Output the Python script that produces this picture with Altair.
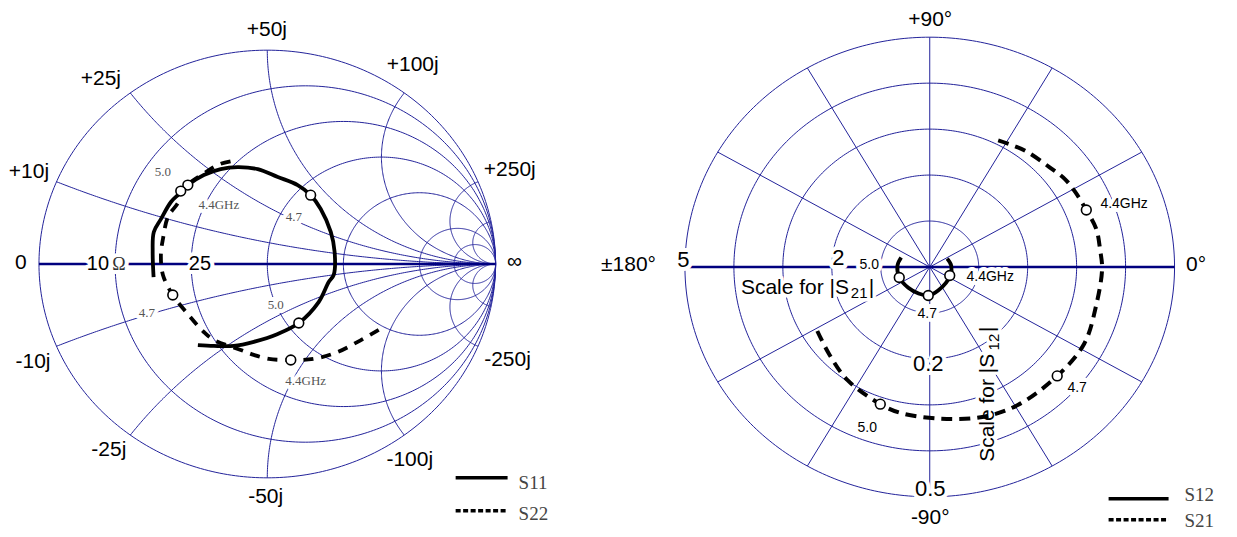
import numpy as np
import pandas as pd
import altair as alt

# ======================= LEFT: Smith chart (Z0 = 50 ohm) =======================
smith_r = [0.2, 0.5, 1.0, 2.0, 5.0, 10.0]   # constant-resistance circles
smith_x = [0.2, 0.5, 1.0, 2.0, 5.0, 10.0]   # constant-reactance arcs (+ and -)

# reflection coefficients (ascending frequency)
s11_re = [-0.498, -0.502, -0.497, -0.466, -0.422, -0.387, -0.348, -0.278, -0.204, -0.129,
          -0.042, 0.046, 0.133, 0.190, 0.234, 0.278, 0.295, 0.291, 0.269, 0.225,
          0.138, 0.046, -0.059, -0.147, -0.234, -0.304]
s11_im = [-0.061, 0.056, 0.150, 0.210, 0.290, 0.327, 0.369, 0.416, 0.444, 0.453,
          0.444, 0.407, 0.369, 0.322, 0.257, 0.150, 0.056, -0.051, -0.084, -0.178,
          -0.276, -0.327, -0.364, -0.383, -0.383, -0.379]
s22_re = [0.488, 0.396, 0.309, 0.203, 0.103, 0.007, -0.059, -0.116, -0.234, -0.278,
          -0.348, -0.414, -0.457, -0.466, -0.457, -0.435, -0.387, -0.379, -0.269, -0.208, -0.133]
s22_im = [-0.308, -0.364, -0.411, -0.444, -0.449, -0.444, -0.425, -0.402, -0.355, -0.318,
          -0.234, -0.145, -0.051, 0.042, 0.117, 0.220, 0.294, 0.341, 0.430, 0.467, 0.486]
# marker points at 4.4, 4.7, 5.0 GHz
s11_mark_re = [-0.348, 0.190, 0.138]
s11_mark_im = [0.369, 0.322, -0.276]
s22_mark_re = [0.103, -0.414, -0.379]
s22_mark_im = [-0.449, -0.145, 0.341]

smith_outer_text = ["+50j", "+25j", "+100j", "+10j", "+250j", "0", "∞",
                    "-10j", "-25j", "-50j", "-100j", "-250j"]
smith_outer_x = [-0.002, -0.729, 0.637, -1.044, 1.062, -1.079, 1.083,
                 -1.026, -0.694, -0.007, 0.624, 1.052]
smith_outer_y = [1.093, 0.864, 0.930, 0.430, 0.439, 0.005, 0.009,
                 -0.458, -0.869, -1.089, -0.916, -0.448]
smith_axis_text = ["10", "25"]
smith_axis_x = [-0.742, -0.295]
smith_axis_y = [0.0, 0.0]
smith_ohm_text = ["Ω"]
smith_ohm_x = [-0.650]
smith_ohm_y = [-0.005]
smith_freq_text = ["5.0", "4.4GHz", "4.7", "5.0", "4.7", "4.4GHz"]
smith_freq_x = [-0.457, -0.212, 0.116, 0.037, -0.527, 0.168]
smith_freq_y = [0.430, 0.276, 0.220, -0.192, -0.229, -0.547]

left_series = ["S11", "S22"]
left_leg_x = [0.825, 0.825]
left_leg_x2 = [1.0525, 1.0525]
left_leg_y = [-1.000, -1.154]
left_leg_tx = [1.1007, 1.1007]
left_leg_ty = [-1.023, -1.168]

# ======================= RIGHT: polar plot of S21 / S12 =======================
polar_rings = [1, 2, 3, 4, 5]
polar_spokes = [30, 60, 90, 120, 150, 210, 240, 270, 300, 330]
s12_ring_factor = 10  # |S12| uses 0.1 per ring, |S21| uses 1 per ring

s21_mag = [3.09, 3.19, 3.27, 3.36, 3.39, 3.43, 3.50, 3.50, 3.52, 3.50,
           3.57, 3.52, 3.50, 3.44, 3.31, 3.23, 3.15, 2.98, 2.80, 2.68]
s21_ang = [63.1, 52.8, 41.7, 34.6, 28.8, 21.2, 13.7, 6.1, -0.7, -13.7,
           -27.9, -42.3, -58.9, -71.2, -86.0, -100.7, -108.7, -124.3, -137.0, -149.8]
s12_mag = [0.040, 0.044, 0.046, 0.054, 0.062, 0.062, 0.063, 0.066, 0.066, 0.062]
s12_ang = [27.0, 4.0, -23.6, -71.5, -92.8, -111.6, -134.0, -159.7, 177.0, 160.4]
s21_mark_mag = [3.43, 3.52, 3.15]
s21_mark_ang = [21.2, -42.3, -108.7]
s12_mark_mag = [0.0448, 0.062, 0.0663]
s12_mark_ang = [-24.3, -92.8, -159.9]

polar_outer_text = ["+90°", "-90°", "±180°", "0°"]
polar_outer_x = [0.01, 0.01, -6.153, 5.439]
polar_outer_y = [5.37, -5.457, 0.043, 0.043]
polar_scale_text = ["5", "2", "0.2", "0.5"]
polar_scale_x = [-5.03, -1.867, -0.031, 0.01]
polar_scale_y = [0.152, 0.196, -2.109, -4.826]
polar_freq_text = ["5.0", "4.4GHz", "4.7", "4.4GHz", "4.7", "5.0"]
polar_freq_x = [-1.235, 1.235, -0.051, 3.969, 3.01, -1.276]
polar_freq_y = [0.043, -0.217, -1.022, 1.37, -2.63, -3.5]

right_series = ["S12", "S21"]
right_leg_x = [3.653, 3.653]
right_leg_x2 = [4.878, 4.878]
right_leg_y = [-5.043, -5.500]
right_leg_tx = [5.204, 5.204]
right_leg_ty = [-4.957, -5.522]

# ======================= layout =======================
H = 521
LW, RW = 560, 661
GRID = "#22229a"
AXIS = "#00007f"
SANS = "Liberation Sans"
SERIF = "Liberation Serif"

# left panel scales: 228.5 px per unit horizontally, 214 px per unit vertically
lx0, ly0, lpx, lpy = 258.5, 254.0, 228.5, 214.0
LX = alt.Scale(domain=[-lx0 / lpx, (LW - lx0) / lpx], nice=False, zero=False)
LY = alt.Scale(domain=[-(H - ly0) / lpy, ly0 / lpy], nice=False, zero=False)
# right panel scales: 49 px per ring horizontally, 46 px per ring vertically
rx0, ry0, rpx, rpy = 361.5, 257.0, 49.0, 46.0
RX = alt.Scale(domain=[-rx0 / rpx, (RW - rx0) / rpx], nice=False, zero=False)
RY = alt.Scale(domain=[-(H - ry0) / rpy, ry0 / rpy], nice=False, zero=False)


def enc(sx, sy, x="x", y="y"):
    return dict(x=alt.X(f"{x}:Q", scale=sx, axis=None), y=alt.Y(f"{y}:Q", scale=sy, axis=None))


# ---------- Smith grid geometry ----------
grid_parts = []
cid = 0
th = np.linspace(0, 2 * np.pi, 361)
grid_parts.append(pd.DataFrame({"x": np.cos(th), "y": np.sin(th), "cid": cid, "i": np.arange(th.size)}))
for r in smith_r:
    cid += 1
    c, R = r / (1 + r), 1 / (1 + r)
    grid_parts.append(pd.DataFrame({"x": c + R * np.cos(th), "y": R * np.sin(th), "cid": cid,
                                    "i": np.arange(th.size)}))
for xv in smith_x:
    gx = (xv ** 2 - 1) / (xv ** 2 + 1)
    gy = 2 * xv / (xv ** 2 + 1)
    a0 = np.arctan2(gy - 1 / xv, gx - 1) % (2 * np.pi)
    a = np.linspace(a0, 1.5 * np.pi, 200)
    px = 1 + (1 / xv) * np.cos(a)
    py = 1 / xv + (1 / xv) * np.sin(a)
    for sgn in (1, -1):
        cid += 1
        grid_parts.append(pd.DataFrame({"x": px, "y": sgn * py, "cid": cid, "i": np.arange(a.size)}))
smith_grid = pd.concat(grid_parts, ignore_index=True)
smith_axis = pd.DataFrame({"x": [-1.0, 1.0], "y": [0.0, 0.0]})


def curve_df(xs, ys):
    return pd.DataFrame({"x": xs, "y": ys, "i": np.arange(len(xs))})


def text_df(t, xs, ys):
    return pd.DataFrame({"t": t, "x": xs, "y": ys})


def halo(df, sx, sy, size, font, align="center", baseline="middle", angle=0, width=6):
    return alt.Chart(df).mark_text(fontSize=size, font=font, align=align, baseline=baseline,
                                   angle=angle, stroke="white", strokeWidth=width,
                                   strokeJoin="round", fill="white").encode(text="t:N", **enc(sx, sy))


def label(df, sx, sy, size, font, color="black", align="center", baseline="middle", angle=0):
    return alt.Chart(df).mark_text(fontSize=size, font=font, align=align, baseline=baseline,
                                   angle=angle, color=color).encode(text="t:N", **enc(sx, sy))


def markers(xs, ys, sx, sy):
    return alt.Chart(curve_df(xs, ys)).mark_point(shape="circle", filled=True, fill="white",
                                                  stroke="black", strokeWidth=1.6, size=95,
                                                  opacity=1).encode(**enc(sx, sy))


# ---------- left layers ----------
l_grid = alt.Chart(smith_grid).mark_line(color=GRID, strokeWidth=1).encode(
    detail="cid:N", order="i:Q", **enc(LX, LY))
l_axis = alt.Chart(smith_axis).mark_line(color=AXIS, strokeWidth=2.5).encode(**enc(LX, LY))

axis_lbl = text_df(smith_axis_text, smith_axis_x, smith_axis_y)
ohm_lbl = text_df(smith_ohm_text, smith_ohm_x, smith_ohm_y)
sfreq_lbl = text_df(smith_freq_text, smith_freq_x, smith_freq_y)
outer_lbl = text_df(smith_outer_text, smith_outer_x, smith_outer_y)

l_s11 = alt.Chart(curve_df(s11_re, s11_im)).mark_line(
    color="black", strokeWidth=3.8, interpolate="catmull-rom").encode(order="i:Q", **enc(LX, LY))
l_s22 = alt.Chart(curve_df(s22_re, s22_im)).mark_line(
    color="black", strokeWidth=3.8, strokeDash=[10, 8], interpolate="catmull-rom").encode(
    order="i:Q", **enc(LX, LY))

lleg = pd.DataFrame({"t": left_series, "x": left_leg_x, "x2": left_leg_x2, "y": left_leg_y,
                     "tx": left_leg_tx, "ty": left_leg_ty})
l_leg_solid = alt.Chart(lleg.iloc[[0]]).mark_rule(color="black", strokeWidth=3.5).encode(
    x=alt.X("x:Q", scale=LX, axis=None), x2="x2:Q", y=alt.Y("y:Q", scale=LY, axis=None))
l_leg_dot = alt.Chart(lleg.iloc[[1]]).mark_rule(color="black", strokeWidth=3.5,
                                                strokeDash=[5, 2.5]).encode(
    x=alt.X("x:Q", scale=LX, axis=None), x2="x2:Q", y=alt.Y("y:Q", scale=LY, axis=None))
l_leg_txt = alt.Chart(lleg).mark_text(font=SERIF, fontSize=19, color="#444", align="left",
                                      baseline="middle").encode(text="t:N", **enc(LX, LY, "tx", "ty"))

left = alt.layer(
    l_grid, l_axis,
    halo(axis_lbl, LX, LY, 20, SANS, width=8), halo(ohm_lbl, LX, LY, 18, SERIF, width=8),
    halo(sfreq_lbl, LX, LY, 13, SERIF, width=8),
    l_s11, l_s22,
    markers(s11_mark_re, s11_mark_im, LX, LY), markers(s22_mark_re, s22_mark_im, LX, LY),
    label(axis_lbl, LX, LY, 20, SANS), label(ohm_lbl, LX, LY, 18, SERIF, color="#333"),
    label(sfreq_lbl, LX, LY, 13, SERIF, color="#555"),
    label(outer_lbl, LX, LY, 21, SANS),
    l_leg_solid, l_leg_dot, l_leg_txt,
).properties(width=LW, height=H)

# ---------- right layers ----------
rparts = []
cid = 0
for k in polar_rings:
    rparts.append(pd.DataFrame({"x": k * np.cos(th), "y": k * np.sin(th), "cid": cid, "i": np.arange(th.size)}))
    cid += 1
for ang in polar_spokes:
    a = np.deg2rad(ang)
    rparts.append(pd.DataFrame({"x": [0, 5 * np.cos(a)], "y": [0, 5 * np.sin(a)], "cid": cid, "i": [0, 1]}))
    cid += 1
polar_grid = pd.concat(rparts, ignore_index=True)
polar_axis = pd.DataFrame({"x": [-5.0, 5.0], "y": [0.0, 0.0]})


def polar_df(mag, ang, factor=1.0):
    m = np.asarray(mag) * factor
    a = np.deg2rad(np.asarray(ang))
    return m * np.cos(a), m * np.sin(a)


s21x, s21y = polar_df(s21_mag, s21_ang)
s12x, s12y = polar_df(s12_mag, s12_ang, s12_ring_factor)
s21mx, s21my = polar_df(s21_mark_mag, s21_mark_ang)
s12mx, s12my = polar_df(s12_mark_mag, s12_mark_ang, s12_ring_factor)

r_grid = alt.Chart(polar_grid).mark_line(color=GRID, strokeWidth=1).encode(
    detail="cid:N", order="i:Q", **enc(RX, RY))
r_axis = alt.Chart(polar_axis).mark_line(color=AXIS, strokeWidth=2.5).encode(**enc(RX, RY))

pscale_lbl = text_df(polar_scale_text, polar_scale_x, polar_scale_y)
pfreq_lbl = text_df(polar_freq_text, polar_freq_x, polar_freq_y)
pouter_lbl = text_df(polar_outer_text, polar_outer_x, polar_outer_y)

# "Scale for |S21|" (horizontal) and "Scale for |S12|" (vertical), pieces with subscripts
sc_main = text_df(["Scale for |S", "|"], [-3.857, -1.245], [-0.598, -0.598])
sc_sub = text_df(["21"], [-1.612], [-0.674])
sc_v_main = text_df(["Scale for |S", "|"], [1.316, 1.316], [-4.239, -1.413])
sc_v_sub = text_df(["12"], [1.418], [-1.815])

r_s21 = alt.Chart(curve_df(s21x, s21y)).mark_line(
    color="black", strokeWidth=4, strokeDash=[11, 7], interpolate="catmull-rom").encode(
    order="i:Q", **enc(RX, RY))
r_s12 = alt.Chart(curve_df(s12x, s12y)).mark_line(
    color="black", strokeWidth=3.8, interpolate="catmull-rom").encode(order="i:Q", **enc(RX, RY))

rleg = pd.DataFrame({"t": right_series, "x": right_leg_x, "x2": right_leg_x2, "y": right_leg_y,
                     "tx": right_leg_tx, "ty": right_leg_ty})
r_leg_solid = alt.Chart(rleg.iloc[[0]]).mark_rule(color="black", strokeWidth=3.5).encode(
    x=alt.X("x:Q", scale=RX, axis=None), x2="x2:Q", y=alt.Y("y:Q", scale=RY, axis=None))
r_leg_dot = alt.Chart(rleg.iloc[[1]]).mark_rule(color="black", strokeWidth=3.5,
                                                strokeDash=[5, 2.5]).encode(
    x=alt.X("x:Q", scale=RX, axis=None), x2="x2:Q", y=alt.Y("y:Q", scale=RY, axis=None))
r_leg_txt = alt.Chart(rleg).mark_text(font=SERIF, fontSize=19, color="#444", align="left",
                                      baseline="middle").encode(text="t:N", **enc(RX, RY, "tx", "ty"))

right = alt.layer(
    r_grid, r_axis,
    halo(pscale_lbl, RX, RY, 22, SANS, width=8), halo(pfreq_lbl, RX, RY, 14, SANS, width=8),
    halo(sc_main, RX, RY, 21, SANS, align="left", baseline="alphabetic", width=7),
    halo(sc_sub, RX, RY, 15, SANS, align="left", baseline="alphabetic", width=7),
    halo(sc_v_main, RX, RY, 21, SANS, align="left", baseline="alphabetic", angle=270, width=7),
    halo(sc_v_sub, RX, RY, 15, SANS, align="left", baseline="alphabetic", angle=270, width=7),
    r_s21, r_s12,
    markers(s21mx, s21my, RX, RY), markers(s12mx, s12my, RX, RY),
    label(pscale_lbl, RX, RY, 22, SANS), label(pfreq_lbl, RX, RY, 14, SANS),
    label(sc_main, RX, RY, 21, SANS, align="left", baseline="alphabetic"),
    label(sc_sub, RX, RY, 15, SANS, align="left", baseline="alphabetic"),
    label(sc_v_main, RX, RY, 21, SANS, align="left", baseline="alphabetic", angle=270),
    label(sc_v_sub, RX, RY, 15, SANS, align="left", baseline="alphabetic", angle=270),
    label(pouter_lbl, RX, RY, 21, SANS),
    r_leg_solid, r_leg_dot, r_leg_txt,
).properties(width=RW, height=H)

chart = alt.hconcat(left, right, spacing=0, bounds="flush").properties(
    padding=0
).configure_view(stroke=None)

chart.save("out.html", embed_options={"renderer": "svg", "actions": False})
